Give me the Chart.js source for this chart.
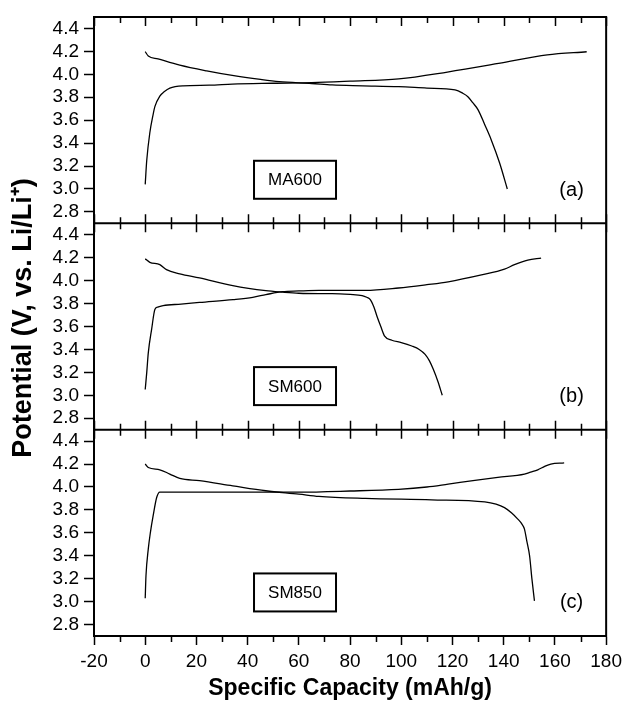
<!DOCTYPE html>
<html>
<head>
<meta charset="utf-8">
<script src="https://cdn.jsdelivr.net/npm/chart.js@4"></script>
<style>
  body { margin: 0; background: #fff; }
  #wrap { width: 627px; height: 705px; position: relative; }
</style>
</head>
<body>
<div id="wrap"><canvas id="chart"></canvas></div>
<script>
    // tick labels / panel labels
    const xTicks = [-20, 0, 20, 40, 60, 80, 100, 120, 140, 160, 180];
    const yTicks = [2.8, 3.0, 3.2, 3.4, 3.6, 3.8, 4.0, 4.2, 4.4];
    const panelNames = ['MA600', 'SM600', 'SM850'];
    const panelTags = ['(a)', '(b)', '(c)'];

    // (a) MA600
    const maChargeX = [0, 0.6, 1.8, 3, 3.8, 5.7, 7.5, 9.6, 14.8, 25, 34, 50, 65, 80, 99, 118, 138, 157, 172.4];
    const maChargeV = [3.04, 3.25, 3.49, 3.64, 3.72, 3.81, 3.85, 3.88, 3.90, 3.905, 3.915, 3.922, 3.927, 3.94, 3.96, 4.02, 4.095, 4.17, 4.197];
    const maDischX = [0, 1.2, 5, 13.5, 24, 34, 45, 52.3, 65, 73, 85, 99, 110, 121, 124, 126, 128, 130, 132.6, 135.1, 138.4, 141.4];
    const maDischV = [4.197, 4.16, 4.135, 4.08, 4.03, 3.99, 3.955, 3.936, 3.92, 3.907, 3.90, 3.892, 3.88, 3.864, 3.835, 3.805, 3.75, 3.69, 3.56, 3.43, 3.226, 3.0];

    // (b) SM600
    const sm6ChargeX = [0, 0.6, 1.2, 2.5, 3.8, 5, 7, 14, 21.2, 34.3, 42, 47.1, 53.6, 60, 67.8, 86, 98.9, 110, 118.3, 131.3, 140.3, 144.2, 149.4, 154.6];
    const sm6ChargeV = [3.05, 3.2, 3.37, 3.575, 3.75, 3.77, 3.783, 3.795, 3.81, 3.835, 3.855, 3.878, 3.904, 3.91, 3.915, 3.915, 3.936, 3.965, 3.99, 4.05, 4.10, 4.14, 4.18, 4.197];
    const sm6DischX = [0, 1.8, 5.7, 8.3, 13.5, 21.2, 34.2, 47.1, 53.6, 60, 67.8, 73, 80, 84.7, 86.5, 87.9, 89.3, 90.5, 92, 93.5, 96.3, 100, 104.1, 107, 109.3, 111, 112.5, 114.3, 116];
    const sm6DischV = [4.19, 4.16, 4.14, 4.096, 4.06, 4.024, 3.957, 3.913, 3.90, 3.89, 3.887, 3.887, 3.88, 3.87, 3.855, 3.835, 3.77, 3.69, 3.60, 3.516, 3.48, 3.46, 3.43, 3.40, 3.357, 3.30, 3.226, 3.12, 3.0];

    // (c) SM850
    const sm8ChargeX = [0, 0.3, 1.2, 2, 3.1, 4.5, 5.7, 20, 40, 60, 80, 98.9, 110, 118.3, 128, 137.7, 148.1, 150.5, 153.3, 156, 158.4, 163.6];
    const sm8ChargeV = [3.03, 3.225, 3.46, 3.6, 3.75, 3.91, 3.955, 3.955, 3.955, 3.955, 3.965, 3.98, 4.0, 4.025, 4.055, 4.084, 4.113, 4.13, 4.15, 4.18, 4.2, 4.21];
    const sm8DischX = [0, 1.2, 5.7, 9.6, 13.5, 21.2, 34.2, 47.1, 60, 67.8, 86, 111.8, 132.6, 137, 140.3, 143, 145.5, 147, 148.1, 149, 150.1, 151, 152];
    const sm8DischV = [4.2, 4.17, 4.15, 4.113, 4.075, 4.055, 4.01, 3.967, 3.938, 3.918, 3.9, 3.888, 3.87, 3.85, 3.82, 3.775, 3.72, 3.68, 3.632, 3.53, 3.40, 3.2, 3.006];

    const yIds = ['ya', 'yb', 'yc'];
    const FONT = 'Arial, "Liberation Sans", Helvetica, sans-serif';
    Chart.defaults.font.family = FONT;
    Chart.defaults.color = '#000';

    function pts(xs, vs) {
        return xs.map((x, i) => ({ x: x, y: vs[i] }));
    }

    function curve(xs, vs, axis) {
        return {
            data: pts(xs, vs),
            yAxisID: axis,
            borderColor: '#000',
            borderWidth: 1.3,
            pointRadius: 0,
            cubicInterpolationMode: 'monotone',
            fill: false
        };
    }

    function yScale() {
        return {
            type: 'linear',
            position: 'left',
            stack: 'panels',
            stackWeight: 1,
            min: 2.7,
            max: 4.5,
            border: { display: true, color: '#000', width: 2 },
            grid: { drawOnChartArea: false, color: '#000', tickLength: 10, tickWidth: 1.5 },
            ticks: {
                autoSkip: false,
                padding: 5,
                font: { size: 19 },
                callback: v => v.toFixed(1)
            },
            afterBuildTicks: s => { s.ticks = yTicks.map(v => ({ value: v })); },
            afterFit: s => { s.width = 94; }
        };
    }

    // frame, panel dividers, inner / minor ticks, labels
    const framePlugin = {
        id: 'frame',
        afterDraw(chart) {
            const ctx = chart.ctx;
            const a = chart.chartArea;
            const xs = chart.scales.x;
            ctx.save();
            ctx.strokeStyle = '#000';
            ctx.lineWidth = 2;
            ctx.strokeRect(a.left, a.top, a.right - a.left, a.bottom - a.top);
            const joins = [chart.scales.ya.bottom, chart.scales.yb.bottom];
            ctx.beginPath();
            joins.forEach(y => { ctx.moveTo(a.left, y); ctx.lineTo(a.right, y); });
            ctx.stroke();

            ctx.lineWidth = 1.5;
            ctx.beginPath();
            for (let v = -20; v <= 180; v += 10) {
                const px = Math.round(xs.getPixelForValue(v)) + 0.5;
                const major = v % 20 === 0;
                const len = major ? 9 : 6;
                ctx.moveTo(px, a.top);
                ctx.lineTo(px, a.top + len);
                joins.forEach(y => { ctx.moveTo(px, y - len); ctx.lineTo(px, y + len); });
                if (!major) { ctx.moveTo(px, a.bottom); ctx.lineTo(px, a.bottom + len); }
            }
            ctx.stroke();

            // sample boxes and panel tags
            ctx.textAlign = 'center';
            ctx.textBaseline = 'middle';
            yIds.forEach((id, i) => {
                const ys = chart.scales[id];
                const cx = xs.getPixelForValue(58.5);
                const cy = ys.getPixelForValue(3.08);
                ctx.lineWidth = 2;
                ctx.fillStyle = '#fff';
                ctx.fillRect(cx - 41, cy - 19, 82, 38);
                ctx.strokeRect(cx - 41, cy - 19, 82, 38);
                ctx.fillStyle = '#000';
                ctx.font = '17px ' + FONT;
                ctx.fillText(panelNames[i], cx, cy + 1);
                ctx.font = '20px ' + FONT;
                ctx.fillText(panelTags[i], xs.getPixelForValue(166.5), ys.getPixelForValue(2.99));
            });

            // y axis title spanning all three panels
            ctx.translate(24, 318);
            ctx.rotate(-Math.PI / 2);
            ctx.font = 'bold 27px ' + FONT;
            ctx.fillText('Potential (V, vs. Li/Li\u207A)', 0, 0);
            ctx.restore();
        }
    };

    const ctx = document.getElementById('chart').getContext('2d');
    new Chart(ctx, {
        type: 'line',
        data: {
            datasets: [
                curve(maChargeX, maChargeV, 'ya'),
                curve(maDischX, maDischV, 'ya'),
                curve(sm6ChargeX, sm6ChargeV, 'yb'),
                curve(sm6DischX, sm6DischV, 'yb'),
                curve(sm8ChargeX, sm8ChargeV, 'yc'),
                curve(sm8DischX, sm8DischV, 'yc')
            ]
        },
        options: {
            responsive: true,
            maintainAspectRatio: false,
            animation: false,
            layout: { padding: { top: 17, right: 18, left: 0, bottom: 0 } },
            plugins: { legend: { display: false }, tooltip: { enabled: false } },
            scales: {
                x: {
                    type: 'linear',
                    min: -20,
                    max: 180,
                    border: { color: '#000', width: 2 },
                    grid: { drawOnChartArea: false, color: '#000', tickLength: 9, tickWidth: 1.5 },
                    ticks: {
                        stepSize: 20,
                        padding: 5,
                        font: { size: 19 },
                        callback: v => (xTicks.includes(v) ? String(v) : '')
                    },
                    title: {
                        display: true,
                        text: 'Specific Capacity (mAh/g)',
                        font: { size: 23, weight: 'bold' },
                        padding: { top: 0, bottom: 3 }
                    },
                    afterFit: s => { s.height = 69; }
                },
                yc: yScale(),
                yb: yScale(),
                ya: yScale()
            }
        },
        plugins: [framePlugin]
    });
</script>
</body>
</html>
